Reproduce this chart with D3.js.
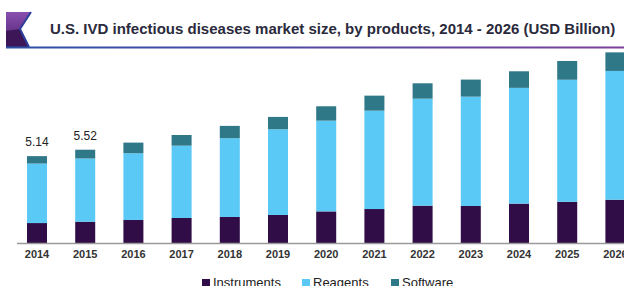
<!DOCTYPE html>
<html>
<head>
<meta charset="utf-8">
<script src="https://cdn.jsdelivr.net/npm/d3@7"></script>
<style>
  body { margin: 0; background: #fff; }
  svg { display: block; font-family: "Liberation Sans", Arial, sans-serif; }
</style>
</head>
<body>
<script>
// chart data (USD Billion)
var years = ['2014', '2015', '2016', '2017', '2018', '2019', '2020', '2021', '2022', '2023', '2024', '2025', '2026'];
var instruments = [1.18, 1.26, 1.36, 1.48, 1.54, 1.66, 1.87, 2.01, 2.21, 2.19, 2.33, 2.44, 2.56];
var reagents = [3.52, 3.74, 3.95, 4.28, 4.66, 5.07, 5.37, 5.82, 6.33, 6.47, 6.85, 7.22, 7.62];
var software = [0.44, 0.52, 0.63, 0.63, 0.73, 0.73, 0.85, 0.89, 0.91, 1.01, 0.98, 1.11, 1.10];
var totalLabels = {'2014': '5.14', '2015': '5.52'};
var seriesNames = ['Instruments', 'Reagents', 'Software'];
var colors = ['#300d47', '#5bc9f5', '#2f7888'];

var width = 624, height = 286;
var baseY = 243;

var svg = d3.select('body').append('svg')
  .attr('width', width)
  .attr('height', height);

// header logo + underline
var defs = svg.append('defs');
var lineGrad = defs.append('linearGradient').attr('id', 'lineGrad');
lineGrad.append('stop').attr('offset', '0%').attr('stop-color', '#2b4fa8');
lineGrad.append('stop').attr('offset', '100%').attr('stop-color', '#7a3f9c');
var logoGrad = defs.append('linearGradient').attr('id', 'logoGrad')
  .attr('x1', 0).attr('y1', 0).attr('x2', 0).attr('y2', 1);
logoGrad.append('stop').attr('offset', '0%').attr('stop-color', '#8a4fb0');
logoGrad.append('stop').attr('offset', '100%').attr('stop-color', '#4a1f6a');

svg.append('path')
  .attr('d', 'M6,12 L31,12 L20,29 L29,47 L6,47 Z')
  .attr('fill', 'url(#logoGrad)');
svg.append('path')
  .attr('d', 'M6,31 L20,29 L29,47 L6,47 Z')
  .attr('fill', '#3c1656');
svg.append('path')
  .attr('d', 'M31,12 L20,29 L29,47')
  .attr('fill', 'none')
  .attr('stroke', '#2b3f9a')
  .attr('stroke-width', 2);

svg.append('rect')
  .attr('x', 6).attr('y', 46.5)
  .attr('width', width - 6).attr('height', 2)
  .attr('fill', 'url(#lineGrad)');

svg.append('text')
  .attr('x', 50).attr('y', 34)
  .attr('font-size', 15)
  .attr('font-weight', 'bold')
  .attr('fill', '#2a2a3c')
  .text('U.S. IVD infectious diseases market size, by products, 2014 - 2026 (USD Billion)');

// scales
var step = 48.2;
var x = d3.scaleBand()
  .domain(years)
  .range([37 - step / 2, 37 - step / 2 + years.length * step])
  .paddingInner(0.585)
  .paddingOuter(0.2925);

var y = d3.scaleLinear()
  .domain([0, 14])
  .range([baseY, baseY - 14 * 16.9]);

// stack the series
var rows = years.map(function(yr, i) {
  return {year: yr, Instruments: instruments[i], Reagents: reagents[i], Software: software[i]};
});
var stacked = d3.stack().keys(seriesNames)(rows);

svg.append('g')
  .selectAll('g')
  .data(stacked)
  .enter()
  .append('g')
  .attr('fill', function(d, i) { return colors[i]; })
  .selectAll('rect')
  .data(function(d) { return d; })
  .enter()
  .append('rect')
  .attr('x', function(d) { return x(d.data.year); })
  .attr('width', x.bandwidth())
  .attr('y', function(d) { return y(d[1]); })
  .attr('height', function(d) { return y(d[0]) - y(d[1]); });

// total labels
svg.append('g')
  .selectAll('text')
  .data(rows.filter(function(d) { return totalLabels[d.year]; }))
  .enter()
  .append('text')
  .attr('x', function(d) { return x(d.year) + x.bandwidth() / 2; })
  .attr('y', function(d) { return y(d.Instruments + d.Reagents + d.Software) - 10; })
  .attr('text-anchor', 'middle')
  .attr('font-size', 12)
  .attr('fill', '#222')
  .text(function(d) { return totalLabels[d.year]; });

// x axis
var xAxis = svg.append('g')
  .attr('transform', 'translate(0,' + baseY + ')')
  .call(d3.axisBottom(x).tickSize(0).tickPadding(7));
xAxis.select('.domain').remove();
xAxis.append('line')
  .attr('x1', 17).attr('x2', width)
  .attr('y1', 0.5).attr('y2', 0.5)
  .attr('stroke', '#9a9a9a')
  .attr('stroke-width', 1.5);
xAxis.selectAll('text')
  .attr('font-size', 11)
  .attr('font-family', '"Liberation Sans", Arial, sans-serif')
  .attr('font-weight', 'bold')
  .attr('fill', '#333');

// legend
var legendX = [202, 302, 391];
var legend = svg.append('g')
  .selectAll('g')
  .data(seriesNames)
  .enter()
  .append('g')
  .attr('transform', function(d, i) { return 'translate(' + legendX[i] + ',279)'; });
legend.append('rect')
  .attr('width', 8).attr('height', 8)
  .attr('fill', function(d, i) { return colors[i]; });
legend.append('text')
  .attr('x', 11).attr('y', 8)
  .attr('font-size', 13)
  .attr('fill', '#222')
  .text(function(d) { return d; });
</script>
</body>
</html>
